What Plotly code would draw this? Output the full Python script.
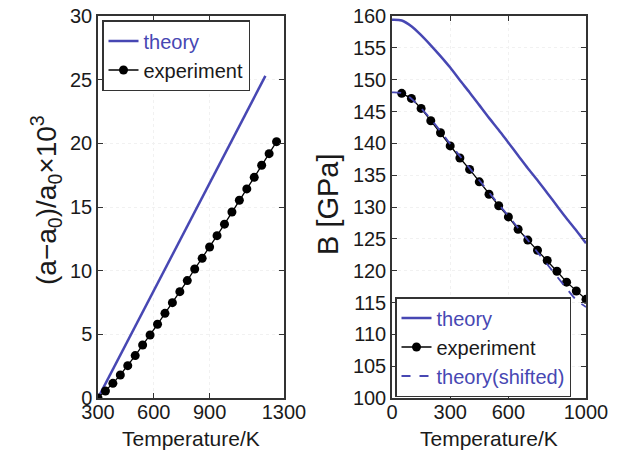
import plotly.graph_objects as go

# ---- left panel: relative lattice expansion ----
temp_theory_a = [300, 1200]
strain_theory = [0.0, 25.3]

temp_exp_a = [300, 340, 380, 420, 460, 500, 540, 580, 620, 660, 700, 740, 780,
              820, 860, 900, 940, 980, 1020, 1060, 1100, 1140, 1180, 1220, 1260]
strain_exp = [0.0, 0.55, 1.15, 1.81, 2.54, 3.33, 4.16, 4.95, 5.79, 6.65, 7.49,
              8.35, 9.22, 10.13, 10.97, 11.86, 12.75, 13.65, 14.61, 15.53,
              16.42, 17.33, 18.28, 19.19, 20.13]

# ---- right panel: bulk modulus ----
temp_b = [0, 50, 100, 150, 200, 250, 300, 350, 400, 450, 500, 550, 600, 650,
          700, 750, 800, 850, 900, 950, 1000]
bulk_theory = [159.4, 159.3, 158.4, 157.0, 155.4, 153.7, 151.9, 149.9, 148.0,
               146.0, 144.0, 142.1, 140.1, 138.1, 136.1, 134.2, 132.2, 130.2,
               128.2, 126.3, 124.3]
bulk_shifted = [148.0, 147.9, 147.0, 145.5, 143.8, 141.9, 139.9, 138.0, 136.1,
                134.2, 132.3, 130.4, 128.6, 126.7, 124.8, 122.9, 121.0, 119.1,
                117.2, 115.4, 114.3]

temp_exp_b = [50, 100, 150, 200, 250, 300, 350, 400, 450, 500, 550, 600, 650,
              700, 750, 800, 850, 900, 950, 1000]
bulk_exp = [147.85, 147.06, 145.49, 143.54, 141.66, 139.6, 137.7, 135.9,
            133.95, 132.0, 130.2, 128.44, 126.5, 124.8, 123.2, 121.6, 119.9,
            118.2, 116.8, 115.5]

left_xticks = [300, 600, 900, 1300]
left_yticks = [0, 5, 10, 15, 20, 25, 30]
right_xticks = [0, 300, 600, 1000]
right_yticks = list(range(100, 161, 5))

BLUE = "#4747b3"
INK = "#1a1a1a"
FONT = "Liberation Sans, Arial, sans-serif"
W, H = 619, 450


def blue_text(s):
    return f"<span style='color:{BLUE}'>{s}</span>"


fig = go.Figure()

fig.add_trace(go.Scatter(x=temp_theory_a, y=strain_theory, mode="lines",
                         line=dict(color=BLUE, width=2.5),
                         name=blue_text("theory"), xaxis="x", yaxis="y",
                         legend="legend"))
fig.add_trace(go.Scatter(x=temp_exp_a, y=strain_exp, mode="lines+markers",
                         line=dict(color="black", width=1.3),
                         marker=dict(color="black", size=9),
                         name="experiment", xaxis="x", yaxis="y",
                         legend="legend"))

fig.add_trace(go.Scatter(x=temp_b, y=bulk_theory, mode="lines",
                         line=dict(color=BLUE, width=2.5, shape="spline",
                                   smoothing=0.8),
                         name=blue_text("theory"), xaxis="x2", yaxis="y2",
                         legend="legend2"))
fig.add_trace(go.Scatter(x=temp_exp_b, y=bulk_exp, mode="lines+markers",
                         line=dict(color="black", width=1.3),
                         marker=dict(color="black", size=9),
                         name="experiment", xaxis="x2", yaxis="y2",
                         legend="legend2"))
fig.add_trace(go.Scatter(x=temp_b, y=bulk_shifted, mode="lines",
                         line=dict(color=BLUE, width=1.8, dash="dash",
                                   shape="spline", smoothing=0.8),
                         name=blue_text("theory(shifted)"), xaxis="x2",
                         yaxis="y2", legend="legend2"))

# plot-area geometry in pixels
L1, R1 = 98, 284
L2, R2 = 392, 586
TOP, BOT = 16, 398
ydom = [(H - BOT) / H, (H - TOP) / H]

axis_common = dict(showline=True, linecolor="#333", linewidth=1.5,
                   mirror="ticks", ticks="inside", ticklen=5,
                   tickcolor="#333", tickwidth=1, zeroline=False,
                   showgrid=True, gridcolor="#f1f1f1", griddash="dot",
                   tickfont=dict(family=FONT, size=20, color=INK),
                   automargin=False)

legend_common = dict(bgcolor="white", bordercolor="#333", borderwidth=1.5,
                     font=dict(family=FONT, size=20, color=INK),
                     tracegroupgap=0, itemwidth=30)

fig.update_layout(
    width=W, height=H,
    margin=dict(l=0, r=0, t=0, b=0),
    paper_bgcolor="white", plot_bgcolor="white",
    font=dict(family=FONT, color=INK),
    xaxis=dict(domain=[L1 / W, R1 / W], range=[300, 1300],
               tickvals=left_xticks, anchor="y", ticklabelstandoff=-5,
               **axis_common),
    yaxis=dict(domain=ydom, range=[0, 30], tickvals=left_yticks,
               anchor="x", **axis_common),
    xaxis2=dict(domain=[L2 / W, R2 / W], range=[0, 1000],
                tickvals=right_xticks, anchor="y2", ticklabelstandoff=-5,
                **axis_common),
    yaxis2=dict(domain=ydom, range=[100, 160], tickvals=right_yticks,
                anchor="x2", **axis_common),
    legend=dict(x=(L1 + 4) / W, y=(H - 20) / H, xanchor="left",
                yanchor="top", **legend_common),
    legend2=dict(x=(L2 + 3) / W, y=(H - 397) / H, xanchor="left",
                 yanchor="bottom", **legend_common),
    showlegend=True,
)

# axis titles
title_font = dict(family=FONT, size=21, color=INK)
fig.add_annotation(text="Temperature/K", xref="paper", yref="paper",
                   x=(L1 + R1) / 2 / W, y=(H - 438) / H, xanchor="center",
                   yanchor="middle", showarrow=False, font=title_font)
fig.add_annotation(text="Temperature/K", xref="paper", yref="paper",
                   x=(L2 + R2) / 2 / W, y=(H - 438) / H, xanchor="center",
                   yanchor="middle", showarrow=False, font=title_font)
fig.add_annotation(text="(a\u2212a<sub>0</sub>)/a<sub>0</sub>\u00d710<sup>3</sup>",
                   xref="paper", yref="paper", x=46 / W, y=(H - 200) / H,
                   xanchor="center", yanchor="middle", textangle=-90,
                   showarrow=False,
                   font=dict(family=FONT, size=28, color=INK))
fig.add_annotation(text="B [GPa]", xref="paper", yref="paper",
                   x=328 / W, y=(H - 204) / H, xanchor="center",
                   yanchor="middle", textangle=-90, showarrow=False,
                   font=dict(family=FONT, size=29, color=INK))

fig.write_html("out.html")
